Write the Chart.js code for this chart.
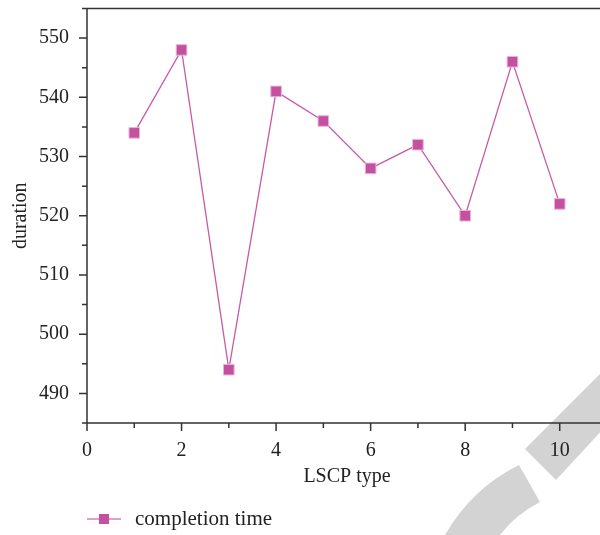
<!DOCTYPE html>
<html>
<head>
  <meta charset="UTF-8">
  <title>completion time</title>
  <script src="https://cdn.jsdelivr.net/npm/chart.js"></script>
  <style>
    html, body { margin: 0; padding: 0; background: #fff; }
    body { width: 600px; height: 535px; overflow: hidden; position: relative; }
    #wrap { position: absolute; left: 0; top: 0; width: 620px; height: 535px; }
    #legend { position: absolute; left: 87px; top: 506px; font-family: "Liberation Serif", serif; font-size: 21px; color: #222; display: flex; align-items: center; }
    #legend canvas { margin-right: 14px; }
  </style>
</head>
<body>
  <div id="wrap"><canvas id="chart" width="620" height="535"></canvas></div>
  <div id="legend"><canvas id="key" width="34" height="14"></canvas><span id="keyText"></span></div>

  <script>
    const types = [1, 2, 3, 4, 5, 6, 7, 8, 9, 10];
    const duration = [534, 548, 494, 541, 536, 528, 532, 520, 546, 522];
    const seriesName = 'completion time';
    const xTicks = [0, 2, 4, 6, 8, 10];
    const yTicks = [490, 500, 510, 520, 530, 540, 550];

    const fill = '#c4519f', lineCol = '#c75aa8', axisCol = '#333';
    const font = { family: '"Liberation Serif", serif', size: 20 };

    // watermark arcs under everything
    const watermark = {
      id: 'watermark',
      beforeDraw(c) {
        const g = c.ctx;
        g.save();
        g.fillStyle = '#d3d3d3';
        g.beginPath();
        g.moveTo(445, 535);
        g.quadraticCurveTo(472, 488, 519, 465);
        g.lineTo(540, 502);
        g.quadraticCurveTo(515, 515, 500, 535);
        g.closePath();
        g.fill();
        g.beginPath();
        g.moveTo(525, 449);
        g.lineTo(606, 368);
        g.lineTo(606, 426);
        g.lineTo(556, 480);
        g.closePath();
        g.fill();
        g.restore();
      }
    };

    // axis frame + major/minor tick marks
    const frame = {
      id: 'frame',
      afterDraw(c) {
        const g = c.ctx, a = c.chartArea, xs = c.scales.x, ys = c.scales.y;
        g.save();
        g.strokeStyle = axisCol;
        g.lineWidth = 1.5;
        g.beginPath();
        g.moveTo(a.left, a.bottom); g.lineTo(a.left, a.top); g.lineTo(a.right, a.top);
        g.moveTo(a.left, a.bottom); g.lineTo(a.right, a.bottom);
        for (let v = xs.min; v <= xs.max; v++) {
          const px = xs.getPixelForValue(v);
          g.moveTo(px, a.bottom); g.lineTo(px, a.bottom + (v % 2 === 0 ? 8 : 5));
        }
        for (let v = ys.min; v <= ys.max; v += 5) {
          const py = ys.getPixelForValue(v);
          g.moveTo(a.left, py); g.lineTo(a.left - (v % 10 === 0 ? 8 : 5), py);
        }
        g.stroke();
        g.restore();
      }
    };

    new Chart(document.getElementById('chart'), {
      type: 'line',
      data: {
        datasets: [{
          label: seriesName,
          data: types.map((t, i) => ({ x: t, y: duration[i] })),
          borderColor: lineCol,
          borderWidth: 1.3,
          backgroundColor: fill,
          pointStyle: 'rect',
          pointRadius: 7.5,
          pointHoverRadius: 7.5,
          pointBackgroundColor: fill,
          pointBorderColor: '#eab3d8',
          pointBorderWidth: 1,
          tension: 0
        }]
      },
      options: {
        responsive: false,
        animation: false,
        layout: { padding: { left: 0, top: 6, right: 13, bottom: 40 } },
        plugins: { legend: { display: false }, tooltip: { enabled: false } },
        scales: {
          x: {
            type: 'linear', min: 0, max: 11,
            afterBuildTicks: s => { s.ticks = xTicks.map(v => ({ value: v })); },
            afterFit: s => { s.height = 72; s.paddingLeft = 0; s.paddingRight = 0; },
            grid: { display: false, drawTicks: false },
            border: { display: false },
            ticks: { font, color: '#222', padding: 16, maxRotation: 0 },
            title: { display: true, text: 'LSCP type', font, color: '#222', padding: { top: 0, bottom: 6 } }
          },
          y: {
            type: 'linear', min: 485, max: 555,
            afterBuildTicks: s => { s.ticks = yTicks.map(v => ({ value: v })); },
            afterFit: s => { s.width = 87; s.paddingTop = 0; s.paddingBottom = 0; },
            grid: { display: false, drawTicks: false },
            border: { display: false },
            ticks: { font, color: '#222', padding: 18 },
            title: { display: true, text: 'duration', font, color: '#222', padding: { top: 9, bottom: 0 } }
          }
        }
      },
      plugins: [watermark, frame]
    });

    // legend key: line with a square marker
    document.getElementById('keyText').textContent = seriesName;
    const k = document.getElementById('key').getContext('2d');
    k.strokeStyle = '#d77cbf'; k.lineWidth = 1.3;
    k.beginPath(); k.moveTo(0, 7); k.lineTo(34, 7); k.stroke();
    k.fillStyle = fill; k.fillRect(12, 2, 10, 10);
  </script>
</body>
</html>
